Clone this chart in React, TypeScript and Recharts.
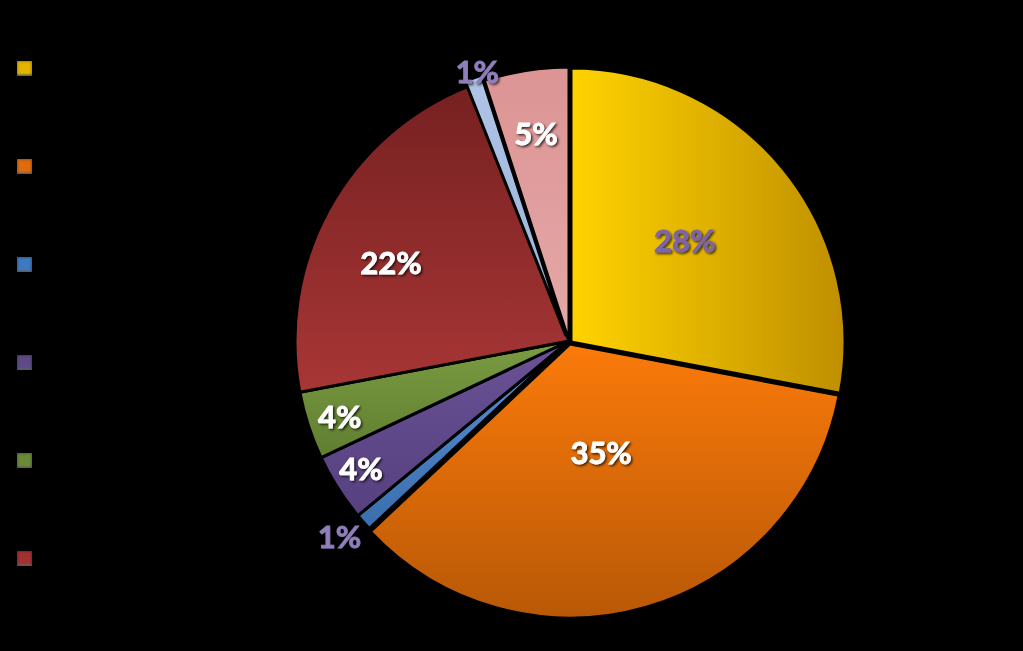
import { PieChart, Pie, Cell } from "recharts"

// slice order: clockwise from 12 o'clock
const categories = ["Cat 1", "Cat 2", "Cat 3", "Cat 4", "Cat 5", "Cat 6", "Cat 7", "Cat 8"]
const shares = [28, 35, 1, 4, 4, 22, 1, 5]
const labels = ["28%", "35%", "1%", "4%", "4%", "22%", "1%", "5%"]
const legendCount = 6

const data = categories.map((name, i) => ({ name, value: shares[i], label: labels[i] }))

const GRADS = [
  { id: "g0", x2: "1", y2: "0", from: "#ffd300", to: "#bf8f00" },
  { id: "g1", x2: "0", y2: "1", from: "#fb7a0a", to: "#b85806" },
  { id: "g2", x2: "0", y2: "1", from: "#5a90d4", to: "#3a6eae" },
  { id: "g3", x2: "0", y2: "1", from: "#6a5296", to: "#56407e" },
  { id: "g4", x2: "0", y2: "1", from: "#7a9c42", to: "#607e30" },
  { id: "g5", x2: "0", y2: "1", from: "#762020", to: "#a83636" },
  { id: "g6", x2: "0", y2: "1", from: "#b0c4e6", to: "#98b0d8" },
  { id: "g7", x2: "0", y2: "1", from: "#dc9494", to: "#e6a8a8" },
]
const LEGEND_COLORS = ["#e3b400", "#de6c0e", "#3f79c0", "#5d4a87", "#6b8a38", "#a23232"]
// label placement: fraction of radius, and angle nudge in degrees (positive = counter-clockwise)
const LABEL_R = [0.56, 0.42, 1.1, 0.89, 0.88, 0.71, 1.04, 0.77]
const LABEL_DA = [1.5, 0, -1, -1, 0, 5, -1, 0]
const LABEL_COLORS = ["#7d65a6", "#ffffff", "#8f7fba", "#ffffff", "#ffffff", "#ffffff", "#8f7fba", "#ffffff"]
const OFFSETS = [[2, 1], [1, 3], [0, 0], [0, 0], [0, 0], [0, 0], [-3, -5], [0, 0]]

const CX = 569
const CY = 341
const R = 274
const RAD = Math.PI / 180

const groups = Array.from(new Set(OFFSETS.map((o) => o.join(",")))).map((k) => k.split(",").map(Number))

function renderLabel(props: any) {
  const { midAngle, index } = props
  const r = R * LABEL_R[index]
  const a = midAngle + LABEL_DA[index]
  const x = CX + r * Math.cos(-a * RAD)
  const y = CY + r * Math.sin(-a * RAD)
  return (
    <text
      x={x}
      y={y}
      textAnchor="middle"
      dominantBaseline="central"
      fill={LABEL_COLORS[index]}
      stroke={LABEL_COLORS[index]}
      strokeWidth={0.8}
      fontFamily="Lato, 'Open Sans', sans-serif"
      fontWeight={700}
      fontSize={31}
      filter="url(#txtShadow)"
    >
      {data[index].label}
    </text>
  )
}

export default function App() {
  return (
    <div style={{ position: "absolute", left: 0, top: 0, width: 1023, height: 651, background: "#000" }}>
      <PieChart width={1023} height={651} margin={{ top: 0, right: 0, bottom: 0, left: 0 }}>
        <defs>
          {GRADS.map((g) => (
            <linearGradient key={g.id} id={g.id} x1="0" y1="0" x2={g.x2} y2={g.y2}>
              <stop offset="0%" stopColor={g.from} />
              <stop offset="100%" stopColor={g.to} />
            </linearGradient>
          ))}
          <filter id="txtShadow" x="-20%" y="-20%" width="140%" height="140%">
            <feDropShadow dx="1.5" dy="1.5" stdDeviation="1.2" floodColor="#000" floodOpacity="0.75" />
          </filter>
        </defs>
        {groups.map(([dx, dy], gi) => (
          <Pie
            key={gi}
            data={data}
            dataKey="value"
            nameKey="name"
            cx={CX + dx}
            cy={CY + dy}
            outerRadius={R}
            startAngle={90}
            endAngle={-270}
            stroke="#000"
            strokeWidth={3}
            isAnimationActive={false}
            labelLine={false}
            label={gi === groups.length - 1 ? renderLabel : false}
          >
            {data.map((_, i) => {
              const own = OFFSETS[i][0] === dx && OFFSETS[i][1] === dy
              return (
                <Cell
                  key={i}
                  fill={own ? `url(#g${i})` : "transparent"}
                  stroke={own ? "#000" : "none"}
                />
              )
            })}
          </Pie>
        ))}
      </PieChart>
      {LEGEND_COLORS.slice(0, legendCount).map((c, i) => (
        <div
          key={i}
          style={{
            position: "absolute",
            left: 17,
            top: 61 + i * 98,
            width: 15,
            height: 15,
            background: `linear-gradient(180deg, ${c} 0%, ${c} 80%, rgba(255,255,255,0.45) 100%)`,
            boxShadow: "inset 0 0 3px rgba(0,0,0,0.5)",
          }}
        />
      ))}
    </div>
  )
}
